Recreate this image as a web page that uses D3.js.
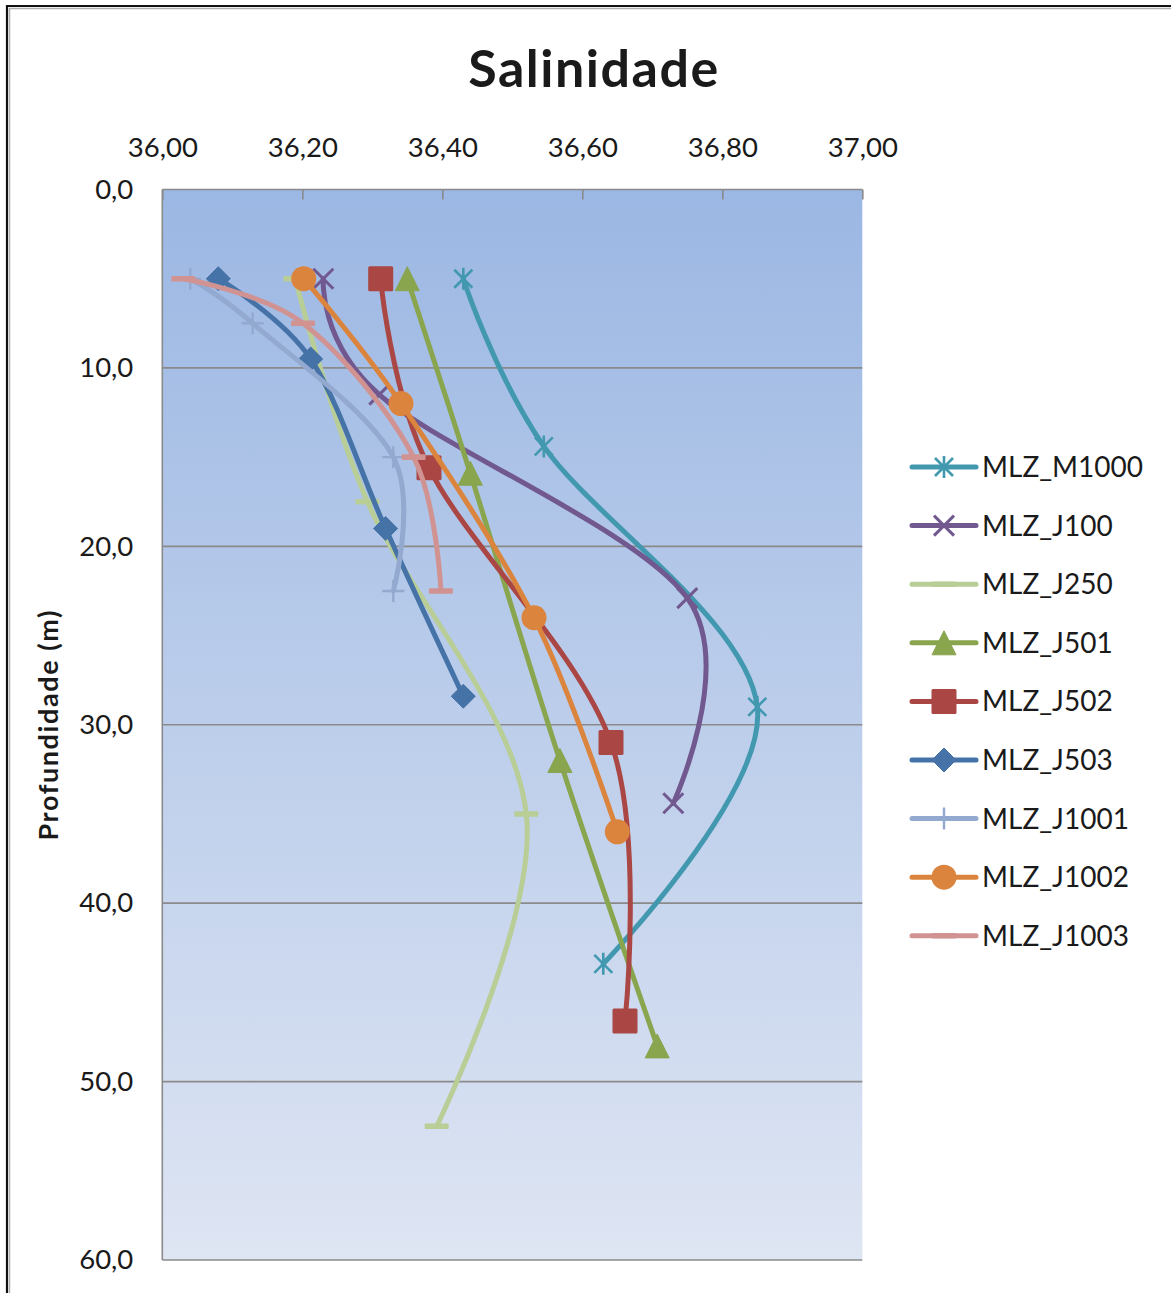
<!DOCTYPE html>
<html>
<head>
<meta charset="utf-8">
<script src="https://cdn.jsdelivr.net/npm/d3@7"></script>
<style>
  html, body { margin: 0; padding: 0; background: #ffffff; }
  svg { display: block; }
  text { font-family: Lato, "Open Sans", "DejaVu Sans", sans-serif; fill: #1a1a1a; }
</style>
</head>
<body>
<svg id="chart" width="1171" height="1293"></svg>
<script>
// Salinity profiles (salinity vs depth) per station
const seriesNames = ["MLZ_M1000", "MLZ_J100", "MLZ_J250", "MLZ_J501", "MLZ_J502",
                     "MLZ_J503", "MLZ_J1001", "MLZ_J1002", "MLZ_J1003"];

const depthM1000 = [5.0, 14.4, 29.0, 43.4];
const salM1000   = [36.43, 36.545, 36.85, 36.63];

const depthJ100 = [5.0, 11.5, 22.9, 34.4];
const salJ100   = [36.23, 36.31, 36.75, 36.73];

const depthJ250 = [5.0, 17.5, 35.0, 52.5];
const salJ250   = [36.19, 36.293, 36.52, 36.392];

const depthJ501 = [5.0, 15.9, 32.0, 48.0];
const salJ501   = [36.35, 36.44, 36.568, 36.707];

const depthJ502 = [5.0, 15.6, 31.0, 46.6];
const salJ502   = [36.312, 36.381, 36.641, 36.661];

const depthJ503 = [5.0, 9.5, 19.0, 28.4];
const salJ503   = [36.08, 36.212, 36.319, 36.43];

const depthJ1001 = [5.0, 7.5, 15.0, 22.5];
const salJ1001   = [36.04, 36.129, 36.33, 36.33];

const depthJ1002 = [5.0, 12.0, 24.0, 36.0];
const salJ1002   = [36.202, 36.341, 36.531, 36.65];

const depthJ1003 = [5.0, 7.5, 15.0, 22.5];
const salJ1003   = [36.03, 36.201, 36.359, 36.398];

const seriesColors  = ["#4198AF", "#71588F", "#B9CD96", "#89A54E", "#AA4643",
                       "#4572A7", "#93A9CF", "#DB843D", "#D19392"];
const seriesMarkers = ["star", "x", "dash", "triangle", "square",
                       "diamond", "plus", "circle", "dash"];

const xTicks = [36.0, 36.2, 36.4, 36.6, 36.8, 37.0];
const yTicks = [0, 10, 20, 30, 40, 50, 60];

const depths = [depthM1000, depthJ100, depthJ250, depthJ501, depthJ502,
                depthJ503, depthJ1001, depthJ1002, depthJ1003];
const sals   = [salM1000, salJ100, salJ250, salJ501, salJ502,
                salJ503, salJ1001, salJ1002, salJ1003];

const series = seriesNames.map((name, i) => ({
  name,
  color: seriesColors[i],
  marker: seriesMarkers[i],
  points: depths[i].map((d, j) => ({ depth: d, sal: sals[i][j] }))
}));

const svg = d3.select("#chart");

// Chart frame with dark edge and soft inner shadow
svg.append("rect").attr("x", 0).attr("y", 0).attr("width", 1171).attr("height", 1293).attr("fill", "#ffffff");
svg.append("path").attr("d", "M7,1300 V6 H1180").attr("fill", "none").attr("stroke", "#111").attr("stroke-width", 2.2);
svg.append("path").attr("d", "M9.5,1300 V8.5 H1180").attr("fill", "none").attr("stroke", "#b0b0b0").attr("stroke-width", 1.5);

const plot = { left: 162.3, top: 189.5, right: 862.3, bottom: 1260 };

const x = d3.scaleLinear().domain([36, 37]).range([plot.left, plot.right]);
const y = d3.scaleLinear().domain([0, 60]).range([plot.top, plot.bottom]);

// Plot background gradient
const defs = svg.append("defs");
const grad = defs.append("linearGradient").attr("id", "plotBg")
  .attr("x1", 0).attr("y1", 0).attr("x2", 0).attr("y2", 1);
grad.append("stop").attr("offset", "0%").attr("stop-color", "#9bb7e3");
grad.append("stop").attr("offset", "100%").attr("stop-color", "#dee5f3");

svg.append("rect")
  .attr("x", plot.left).attr("y", plot.top)
  .attr("width", plot.right - plot.left).attr("height", plot.bottom - plot.top)
  .attr("fill", "url(#plotBg)");

// Horizontal gridlines
svg.append("g").selectAll("line")
  .data(yTicks)
  .join("line")
  .attr("x1", plot.left).attr("x2", plot.right)
  .attr("y1", d => y(d)).attr("y2", d => y(d))
  .attr("stroke", "#8a8a8a").attr("stroke-width", 1.6);

// Left axis line
svg.append("line")
  .attr("x1", plot.left).attr("x2", plot.left)
  .attr("y1", plot.top).attr("y2", plot.bottom)
  .attr("stroke", "#8a8a8a").attr("stroke-width", 1.6);

// Top axis (salinity)
const xAxis = d3.axisTop(x).tickValues(xTicks)
  .tickFormat(d => d3.format(".2f")(d).replace(".", ","))
  .tickSizeInner(-10).tickSizeOuter(0).tickPadding(33);
const gx = svg.append("g").attr("transform", `translate(0,${plot.top})`).call(xAxis);
gx.select(".domain").remove();
gx.selectAll(".tick line").attr("stroke", "#8a8a8a").attr("stroke-width", 1.6);
gx.selectAll(".tick text").attr("font-size", 27.5).attr("fill", "#1a1a1a")
  .style("font-family", "Lato, sans-serif");

// Left axis (depth)
const yAxis = d3.axisLeft(y).tickValues(yTicks)
  .tickFormat(d => d3.format(".1f")(d).replace(".", ","))
  .tickSize(0).tickPadding(29);
const gy = svg.append("g").attr("transform", `translate(${plot.left},0)`).call(yAxis);
gy.select(".domain").remove();
gy.selectAll(".tick text").attr("font-size", 27.5).attr("fill", "#1a1a1a")
  .style("font-family", "Lato, sans-serif");

// Titles
svg.append("text")
  .attr("x", 594).attr("y", 87)
  .attr("text-anchor", "middle")
  .attr("font-size", 52).attr("font-weight", 700)
  .attr("letter-spacing", 1.5)
  .text("Salinidade");

svg.append("text")
  .attr("transform", `translate(58,${(plot.top + plot.bottom) / 2}) rotate(-90)`)
  .attr("text-anchor", "middle")
  .attr("font-size", 27).attr("font-weight", 700)
  .attr("letter-spacing", 1.6)
  .text("Profundidade (m)");

// Marker drawing
function drawMarker(g, type, color) {
  switch (type) {
    case "star":
      g.append("path").attr("d", "M-9,-9L9,9M-9,9L9,-9M0,-11V11")
        .attr("stroke", color).attr("stroke-width", 2.6).attr("fill", "none");
      break;
    case "x":
      g.append("path").attr("d", "M-10,-10L10,10M-10,10L10,-10")
        .attr("stroke", color).attr("stroke-width", 3).attr("fill", "none");
      break;
    case "plus":
      g.append("path").attr("d", "M-11,0H11M0,-11V11")
        .attr("stroke", color).attr("stroke-width", 2.4).attr("fill", "none");
      break;
    case "dash":
      g.append("rect").attr("x", -12).attr("y", -2.8).attr("width", 24).attr("height", 5.6)
        .attr("rx", 1).attr("fill", color);
      break;
    case "triangle":
      g.append("path").attr("d", "M0,-12L12,12H-12Z").attr("fill", color)
        .attr("stroke", color).attr("stroke-width", 1).attr("stroke-linejoin", "round");
      break;
    case "square":
      g.append("rect").attr("x", -12.5).attr("y", -12.5).attr("width", 25).attr("height", 25)
        .attr("rx", 1.5).attr("fill", color);
      break;
    case "diamond":
      g.append("path").attr("d", "M0,-12L12,0L0,12L-12,0Z").attr("fill", color)
        .attr("stroke", color).attr("stroke-width", 1).attr("stroke-linejoin", "round");
      break;
    case "circle":
      g.append("circle").attr("r", 12.5).attr("fill", color);
      break;
  }
}

// Smoothed profile lines
const line = d3.line()
  .x(d => x(d.sal))
  .y(d => y(d.depth))
  .curve(d3.curveCardinal.tension(0));

const gSeries = svg.append("g");
series.forEach(s => {
  const g = gSeries.append("g");
  g.append("path")
    .datum(s.points)
    .attr("d", line)
    .attr("fill", "none")
    .attr("stroke", s.color)
    .attr("stroke-width", 5)
    .attr("stroke-linecap", "round")
    .attr("stroke-linejoin", "round");
  g.selectAll("g.mk")
    .data(s.points)
    .join("g")
    .attr("class", "mk")
    .attr("transform", d => `translate(${x(d.sal)},${y(d.depth)})`)
    .each(function () { drawMarker(d3.select(this), s.marker, s.color); });
});

// Legend
const legendX0 = 912, legendX1 = 976, legendTop = 467, legendStep = 58.6;
const legend = svg.append("g");
series.forEach((s, i) => {
  const cy = legendTop + i * legendStep;
  const g = legend.append("g");
  g.append("line")
    .attr("x1", legendX0).attr("x2", legendX1)
    .attr("y1", cy).attr("y2", cy)
    .attr("stroke", s.color).attr("stroke-width", 5).attr("stroke-linecap", "round");
  const m = g.append("g").attr("transform", `translate(${(legendX0 + legendX1) / 2},${cy})`);
  drawMarker(m, s.marker, s.color);
  g.append("text")
    .attr("x", 982).attr("y", cy).attr("dy", "0.36em")
    .attr("font-size", 28)
    .text(s.name);
});
</script>
</body>
</html>
